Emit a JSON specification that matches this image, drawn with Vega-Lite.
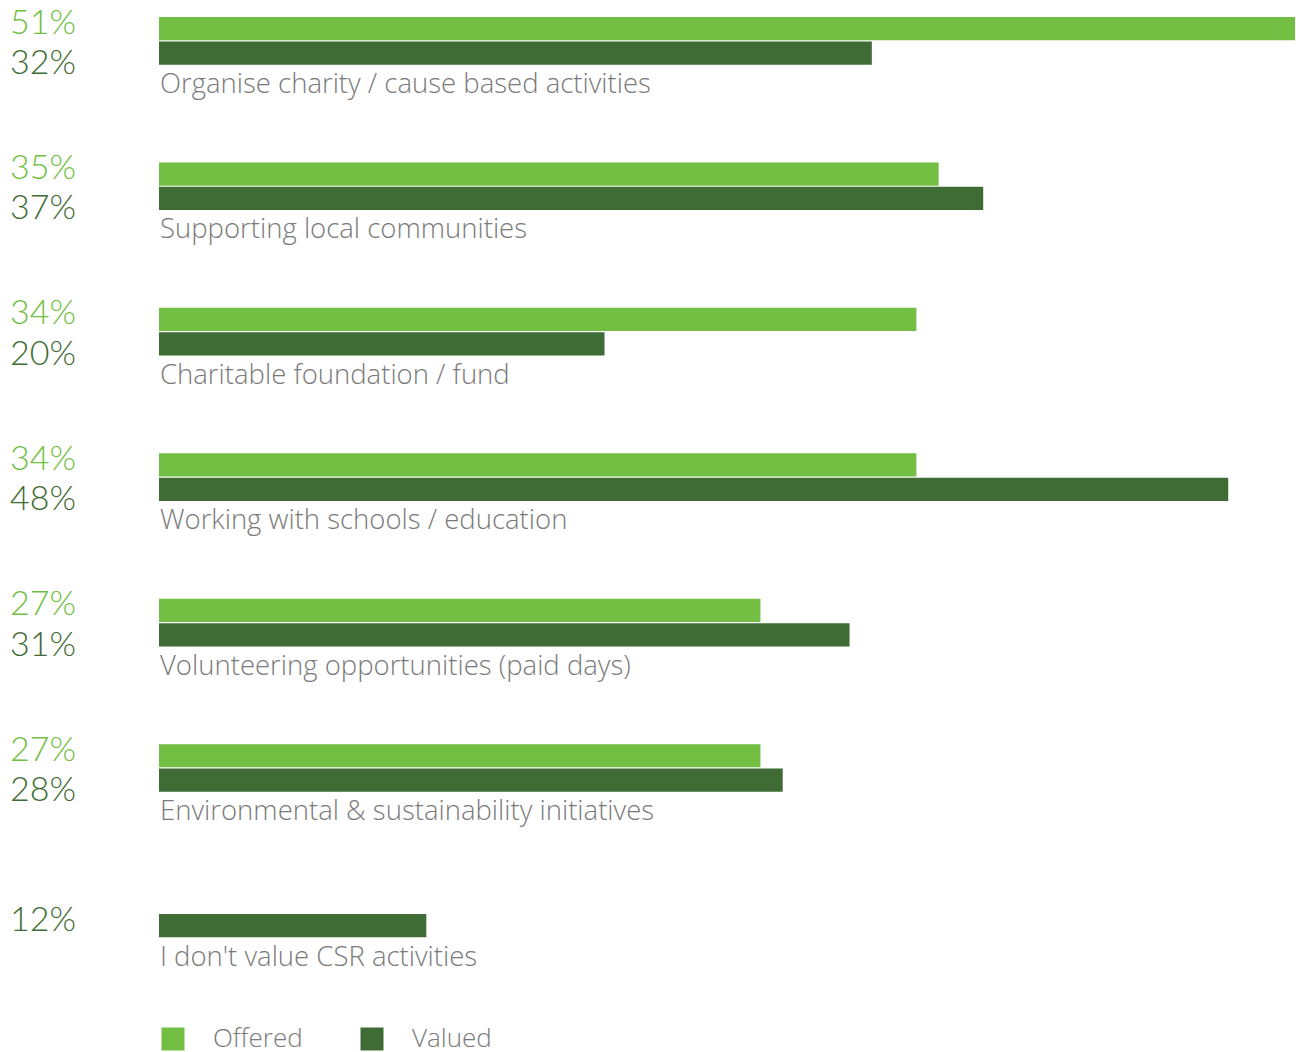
{
  "$schema": "https://vega.github.io/schema/vega-lite/v6.json",
  "width": 1300,
  "height": 1018,
  "padding": {"left": 0, "top": 17, "right": 0, "bottom": 17},
  "autosize": {"type": "none"},
  "background": "white",
  "config": {"view": {"stroke": null}, "font": "Lato"},
  "data": {
    "values": [
      {"category": "Organise charity / cause based activities", "series": "Offered", "value": 0.51},
      {"category": "Organise charity / cause based activities", "series": "Valued", "value": 0.32},
      {"category": "Supporting local communities", "series": "Offered", "value": 0.35},
      {"category": "Supporting local communities", "series": "Valued", "value": 0.37},
      {"category": "Charitable foundation / fund", "series": "Offered", "value": 0.34},
      {"category": "Charitable foundation / fund", "series": "Valued", "value": 0.20},
      {"category": "Working with schools / education", "series": "Offered", "value": 0.34},
      {"category": "Working with schools / education", "series": "Valued", "value": 0.48},
      {"category": "Volunteering opportunities (paid days)", "series": "Offered", "value": 0.27},
      {"category": "Volunteering opportunities (paid days)", "series": "Valued", "value": 0.31},
      {"category": "Environmental & sustainability initiatives", "series": "Offered", "value": 0.27},
      {"category": "Environmental & sustainability initiatives", "series": "Valued", "value": 0.28},
      {"category": "I don't value CSR activities", "series": "Valued", "value": 0.12}
    ]
  },
  "encoding": {
    "y": {
      "field": "category",
      "type": "nominal",
      "sort": null,
      "axis": null,
      "scale": {"paddingInner": 0, "paddingOuter": 0}
    },
    "yOffset": {
      "field": "series",
      "type": "nominal",
      "scale": {"domain": ["Offered", "Valued", "a", "b", "c", "d"], "paddingInner": 0.05, "paddingOuter": 0}
    }
  },
  "layer": [
    {
      "mark": {"type": "bar"},
      "encoding": {
        "x": {
          "field": "value",
          "type": "quantitative",
          "axis": null,
          "scale": {"domain": [-0.07138, 0.51222], "nice": false, "zero": false}
        },
        "color": {
          "field": "series",
          "type": "nominal",
          "scale": {"domain": ["Offered", "Valued"], "range": ["#72bf44", "#3f6c34"]},
          "legend": {
            "title": null,
            "orient": "none",
            "direction": "horizontal",
            "legendX": 160,
            "legendY": 1009,
            "padding": 0,
            "symbolType": "square",
            "symbolSize": 529,
            "symbolStrokeWidth": 0,
            "symbolOpacity": 1,
            "labelFont": "Open Sans",
            "labelFontSize": 26,
            "labelFontWeight": 300,
            "labelColor": "#7a7a7a",
            "labelOffset": 27,
            "columnPadding": 56
          }
        }
      }
    },
    {
      "transform": [{"filter": "datum.series === 'Valued'"}],
      "mark": {"type": "text", "align": "left", "baseline": "alphabetic", "dx": 1, "dy": 40, "fontSize": 27.5, "fontWeight": 300, "color": "#7a7a7a", "font": "Open Sans"},
      "encoding": {
        "x": {"datum": 0},
        "text": {"field": "category"}
      }
    },
    {
      "transform": [{"filter": "datum.series === 'Offered'"}],
      "mark": {"type": "text", "align": "left", "baseline": "alphabetic", "dy": 5, "fontSize": 34, "fontWeight": 300, "color": "#72bf44", "font": "Lato"},
      "encoding": {
        "x": {"datum": -0.0669},
        "text": {"field": "value", "format": ".0%"}
      }
    },
    {
      "transform": [{"filter": "datum.series === 'Valued' && datum.category !== \"I don't value CSR activities\""}],
      "mark": {"type": "text", "align": "left", "baseline": "alphabetic", "dy": 21, "fontSize": 34, "fontWeight": 300, "color": "#3f6c34", "font": "Lato"},
      "encoding": {
        "x": {"datum": -0.0669},
        "text": {"field": "value", "format": ".0%"}
      }
    },
    {
      "transform": [{"filter": "datum.category === \"I don't value CSR activities\""}],
      "mark": {"type": "text", "align": "left", "baseline": "alphabetic", "dy": 5, "fontSize": 34, "fontWeight": 300, "color": "#3f6c34", "font": "Lato"},
      "encoding": {
        "x": {"datum": -0.0669},
        "text": {"field": "value", "format": ".0%"}
      }
    }
  ]
}
